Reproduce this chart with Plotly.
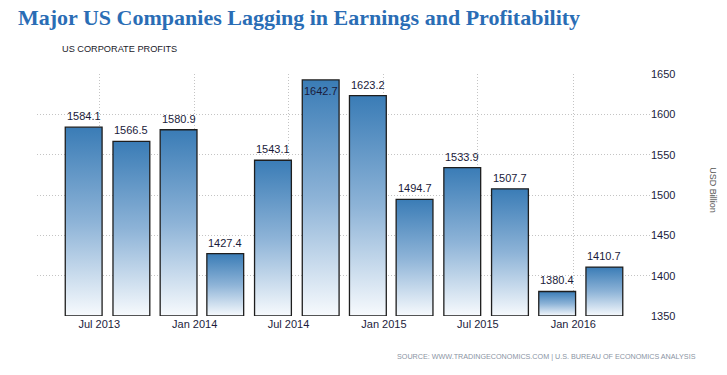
import plotly.graph_objects as go
import pandas as pd

# Data
dates = ["2013-06-01", "2013-09-01", "2013-12-01", "2014-03-01", "2014-06-01", "2014-09-01",
         "2014-12-01", "2015-03-01", "2015-06-01", "2015-09-01", "2015-12-01", "2016-03-01"]
profits = [1584.1, 1566.5, 1580.9, 1427.4, 1543.1, 1642.7,
           1623.2, 1494.7, 1533.9, 1507.7, 1380.4, 1410.7]
tick_dates = ["2013-07-01", "2014-01-01", "2014-07-01", "2015-01-01", "2015-07-01", "2016-01-01"]
tick_labels = ["Jul 2013", "Jan 2014", "Jul 2014", "Jan 2015", "Jul 2015", "Jan 2016"]
y_ticks = [1350, 1400, 1450, 1500, 1550, 1600, 1650]

Y_MIN, Y_MAX = 1350, 1650
BAR_DAYS = 71
half = pd.Timedelta(days=BAR_DAYS / 2)

fig = go.Figure()

# bars: gradient-filled rectangles with dark outline
for d, v in zip(dates, profits):
    c = pd.Timestamp(d)
    x0, x1 = c - half, c + half
    fig.add_trace(go.Scatter(
        x=[x0, x1, x1, x0, x0],
        y=[Y_MIN, Y_MIN, v, v, Y_MIN],
        mode="lines", fill="toself",
        line=dict(width=1.3, color="#1e1e1e"),
        fillgradient=dict(type="vertical",
                          colorscale=[[0, "#f7fafd"], [0.5, "#8db3d7"], [1, "#3a7cb6"]]),
        hoverinfo="skip", showlegend=False, cliponaxis=False,
    ))

annotations = []
# value labels
for d, v in zip(dates, profits):
    inside = v > Y_MAX - 15
    annotations.append(dict(
        x=d, y=v, xref="x", yref="y", text=f"{v:.1f}", showarrow=False,
        xanchor="center", yanchor="top" if inside else "bottom",
        yshift=-3 if inside else 3,
        font=dict(family="Liberation Sans, Arial", size=11, color="#1a1a3a"),
    ))

annotations += [
    dict(text="<b>Major US Companies Lagging in Earnings and Profitability</b>",
         xref="paper", yref="paper", x=-21 / 613, y=1 + 56 / 242,
         xanchor="left", yanchor="middle", showarrow=False,
         font=dict(family="Liberation Serif, Times New Roman", size=22, color="#2a6db5")),
    dict(text="US CORPORATE PROFITS",
         xref="paper", yref="paper", x=23 / 613, y=1 + 25 / 242,
         xanchor="left", yanchor="middle", showarrow=False,
         font=dict(family="Liberation Sans, Arial", size=9.2, color="#1a1a2a")),
    dict(text="USD Billion", textangle=90,
         xref="paper", yref="paper", x=1 + 63 / 613, y=0.52,
         xanchor="center", yanchor="middle", showarrow=False,
         font=dict(family="Liberation Sans, Arial", size=9, color="#555555")),
    dict(text="SOURCE: WWW.TRADINGECONOMICS.COM | U.S. BUREAU OF ECONOMICS ANALYSIS",
         xref="paper", yref="paper", x=1 + 48 / 613, y=-40 / 242,
         xanchor="right", yanchor="middle", showarrow=False,
         font=dict(family="Liberation Sans, Arial", size=7.2, color="#8a94a3")),
]

GRID = "#c4c4c4"
fig.update_layout(
    width=727, height=375,
    margin=dict(l=37, r=77, t=74, b=59),
    paper_bgcolor="white", plot_bgcolor="white",
    xaxis=dict(
        type="date",
        range=["2013-03-03", "2016-05-28"],
        tickvals=tick_dates, ticktext=tick_labels,
        showgrid=True, gridcolor=GRID, griddash="1px,2px", gridwidth=1,
        showline=False, zeroline=False, ticks="",
        tickfont=dict(family="Liberation Sans, Arial", size=11, color="#1c1c3c"),
    ),
    yaxis=dict(
        range=[Y_MIN, Y_MAX], side="right",
        tickvals=y_ticks,
        showgrid=True, gridcolor=GRID, griddash="1px,2px", gridwidth=1,
        showline=False, zeroline=False, ticks="",
        tickfont=dict(family="Liberation Sans, Arial", size=11, color="#1c1c3c"),
    ),
    annotations=annotations,
)

fig.write_html("out.html", config={"displayModeBar": False},
               post_script="document.body.style.margin='0';")
